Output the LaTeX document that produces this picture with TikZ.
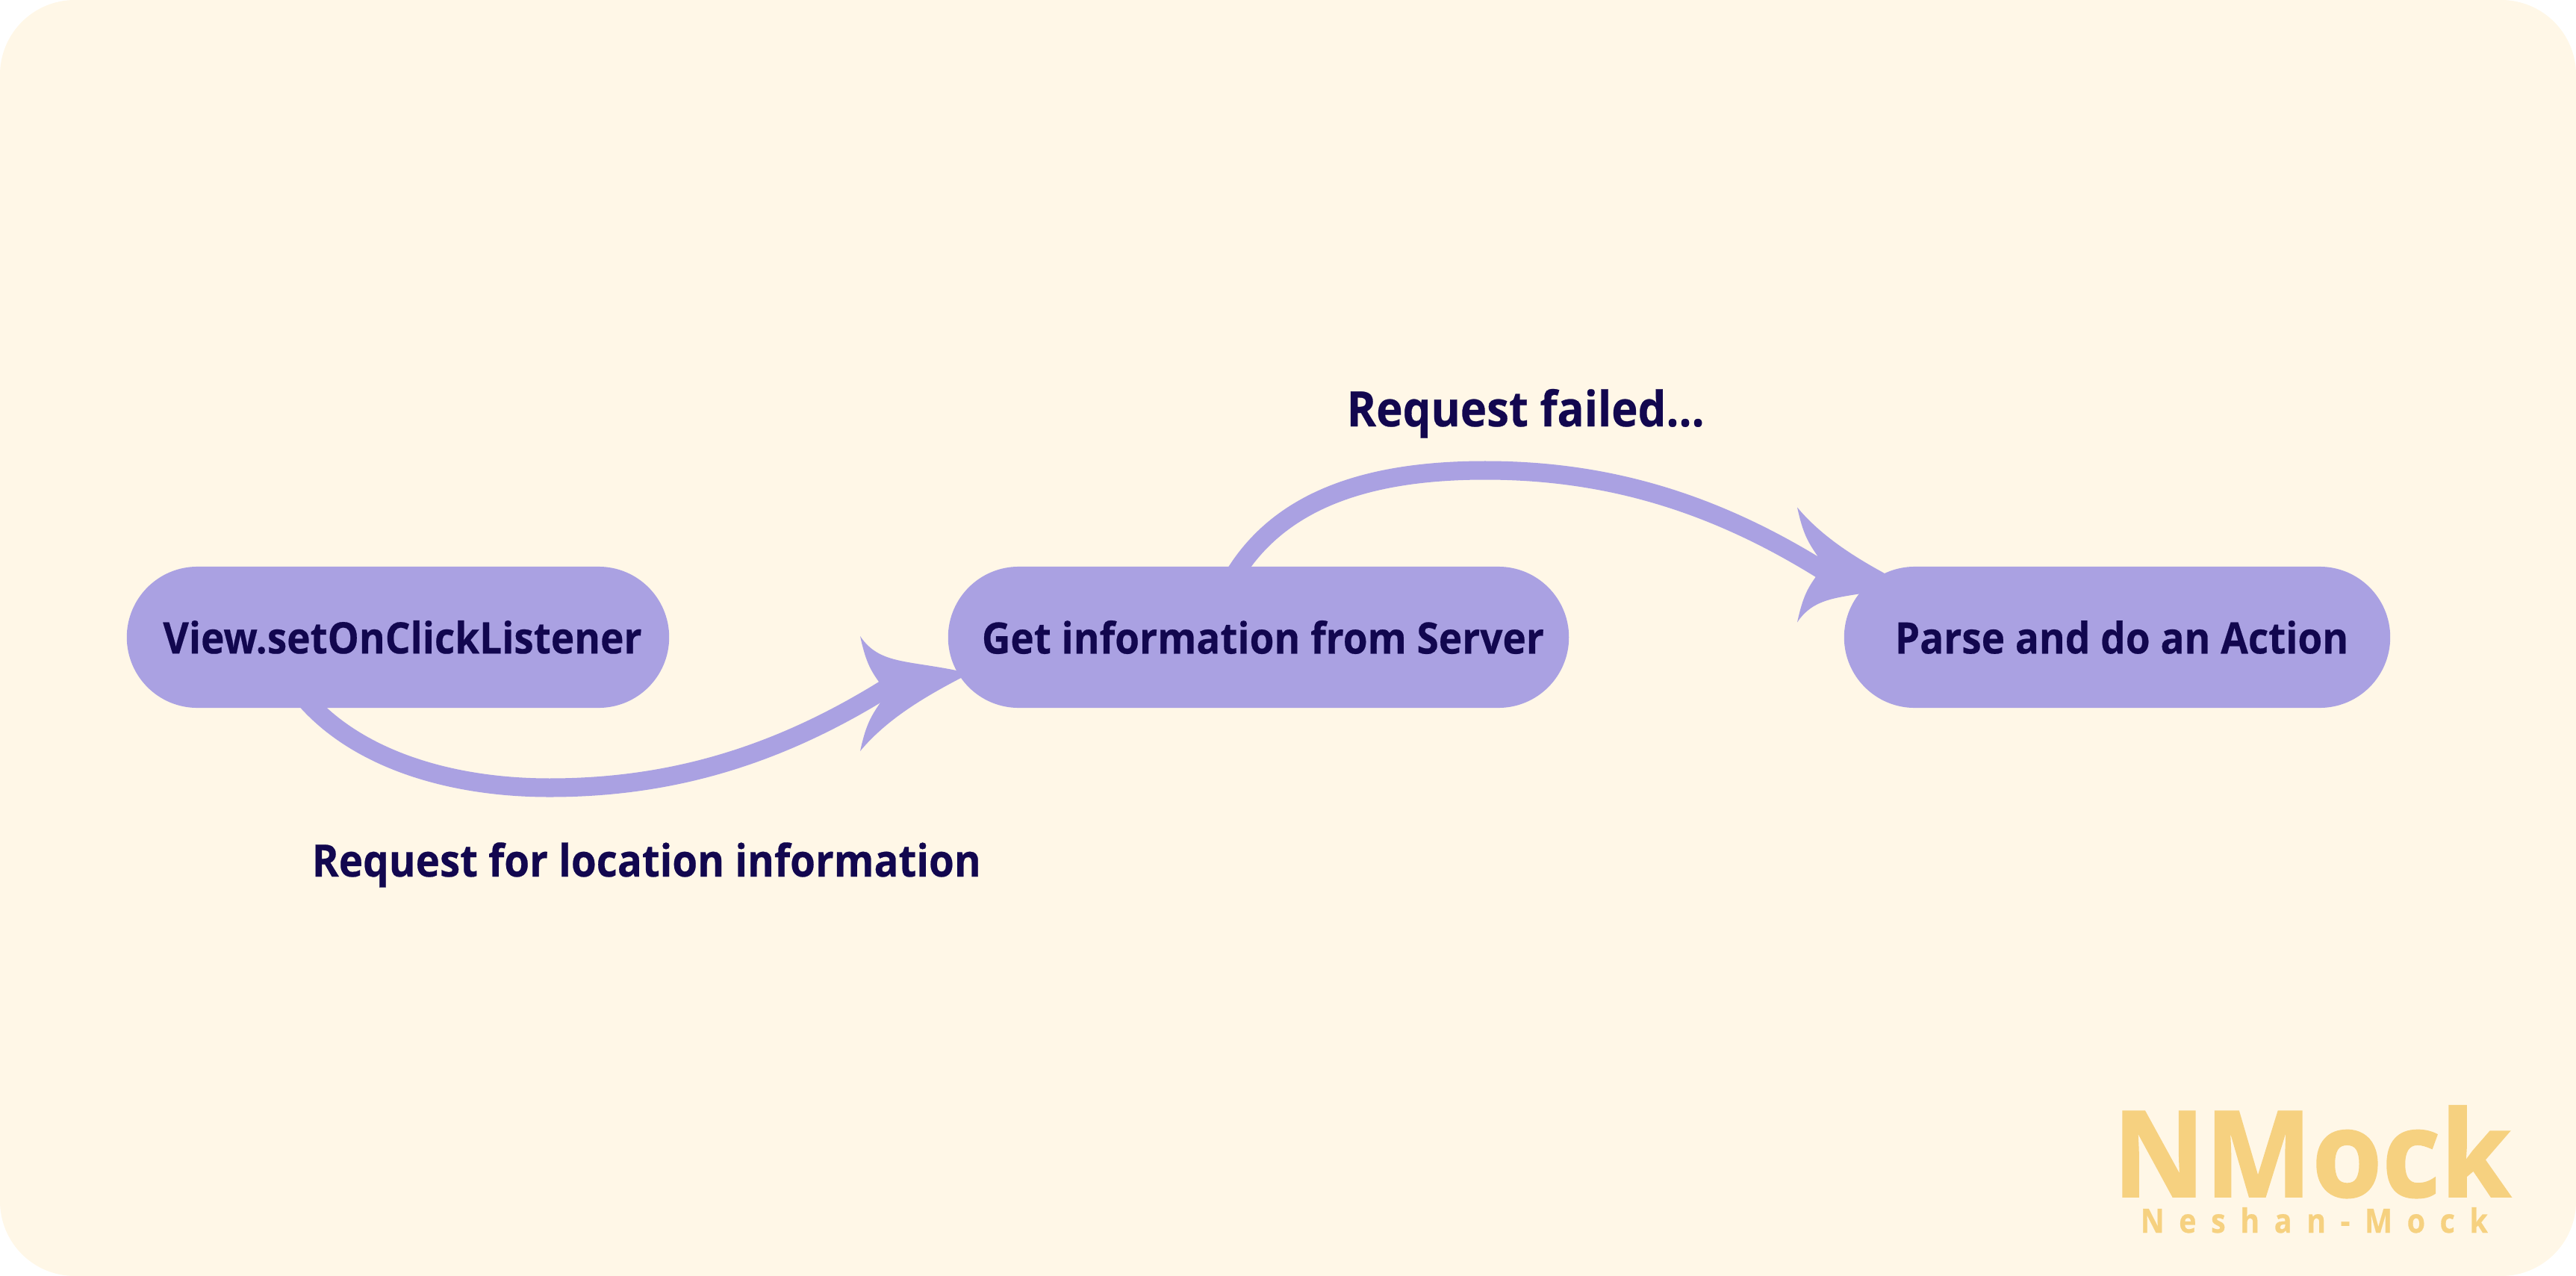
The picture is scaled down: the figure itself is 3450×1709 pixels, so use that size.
\documentclass[tikz,border=0pt]{standalone}
\usepackage{fontspec}
\setmainfont[FakeStretch=0.915,BoldFeatures={FakeBold=0.4}]{Open Sans}
\usetikzlibrary{shapes.misc}
\definecolor{paper}{HTML}{FFF7E7}
\definecolor{lilac}{HTML}{AAA1E2}
\definecolor{ink}{HTML}{12074F}
\definecolor{sand}{HTML}{F6D180}
\newfontfamily\logofont[FakeStretch=0.945,BoldFeatures={FakeBold=1.2}]{Open Sans}
\newfontfamily\logosubfont[FakeStretch=0.88,LetterSpace=44,BoldFeatures={FakeBold=0.6}]{Open Sans}
\def\swoophead[#1](#2){\fill[lilac,shift={(#2)},#1] (0,-77) .. controls (25,-40) and (60,-45) .. (129,-31) -- (150,-25) -- (135,-21) .. controls (85,5) and (35,35) .. (0,77) .. controls (8,40) and (15,30) .. (27,12) -- (27,-13) .. controls (15,-30) and (8,-40) .. cycle;}
\tikzset{
	x=0.01cm, y=-0.01cm,
	flownode/.style={rounded rectangle, fill=lilac, text=ink, font=\fontsize{16.5}{20}\selectfont\bfseries, minimum height=1.89cm, inner sep=0pt, execute at begin node=\hspace*{0.12cm}},
	flowlabel/.style={anchor=base west, text=ink, font=\fontsize{17}{20}\selectfont\bfseries, inner sep=0pt},
	flowline/.style={draw=lilac, line width=0.25cm},
	logotext/.style={anchor=base west, text=sand, inner sep=0pt}
}
\begin{document}
\begin{tikzpicture}
	%%%%% START %%%%%
	\useasboundingbox (0, 0) rectangle (3450, 1709);
	\fill[paper, rounded corners=1cm] (0, 0) rectangle (3450, 1709);

	\node[flownode, minimum width=7.26cm] (view) at (533, 853.5) {View.setOnClickListener};
	\node[flownode, minimum width=8.31cm] (info) at (1685.5, 853.5) {Get information from Server};
	\node[flownode, minimum width=7.31cm] (parse) at (2835.5, 853.5) {Parse and do an Action};

	\coordinate (viewFoot) at ([shift={(-133, -23)}] view.south);
	\coordinate (infoIn) at ([shift={(-475.5, 53.5)}] info.center);
	\coordinate (infoTop) at ([shift={(-45.5, 36)}] info.north);
	\coordinate (parseIn) at ([shift={(-372.5, -75.5)}] parse.center);

	\draw[flowline] (viewFoot) .. controls (470, 1015) and (600, 1055) .. (736, 1055) .. controls (900, 1055) and (1050, 1012) .. (infoIn);
	\draw[flowline] (infoTop) .. controls (1700, 670) and (1830, 630) .. (1989, 630) .. controls (2153, 630) and (2303, 673) .. (parseIn);
	\swoophead[](1152, 929);
	\swoophead[yscale=-1](2407, 756.5);

	\node[flowlabel] (askLabel) at (417, 1174) {Request for location information};
	\node[flowlabel, font=\fontsize{18.6}{20}\selectfont\bfseries] (failLabel) at (1803, 571) {Request failed...};

	\node[logotext, font=\logofont\fontsize{45.7}{50}\selectfont\bfseries] (logoMain) at (2829, 1603) {NMock};
	\node[logotext, font=\logosubfont\fontsize{12.7}{14}\selectfont\bfseries] (logoSub) at (2866, 1651) {Neshan-Mock};
	%%%%% END %%%%%
\end{tikzpicture}
\end{document}
